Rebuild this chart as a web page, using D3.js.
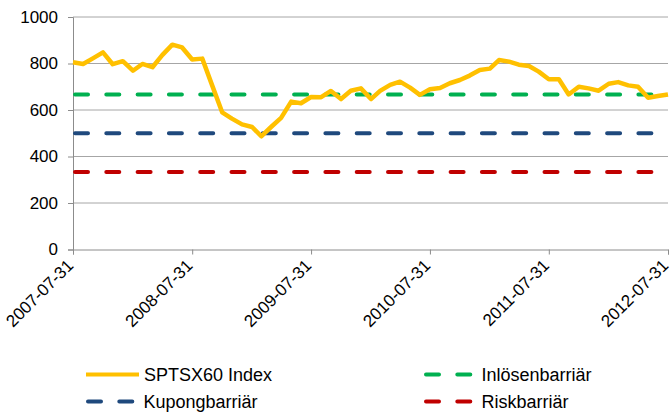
<!DOCTYPE html>
<html>
<head>
<meta charset="utf-8">
<script src="https://cdn.jsdelivr.net/npm/d3@7"></script>
<style>
  body { margin: 0; background: #fff; }
  text { font-family: "Liberation Sans", Arial, sans-serif; fill: #000; }
</style>
</head>
<body>
<div id="chart-area"></div>
<script>
// monthly index closes, first value is 2007-07-31
const startMonth = new Date(2007, 7, 1);
const indexValues = [805, 798, 822, 848, 797, 810, 769, 798, 784, 836, 881, 869, 817, 821, 707,
    590, 563, 538, 527, 487, 528, 566, 636, 629, 656, 655, 682, 647, 683, 693,
    647, 682, 708, 722, 696, 665, 689, 695, 715, 729, 748, 772, 778, 815, 808,
    795, 789, 765, 732, 732, 667, 700, 693, 683, 713, 720, 706, 700, 653, 660, 667];

const barrierNames = ["Inlösenbarriär", "Kupongbarriär", "Riskbarriär"];
const barrierLevels = [667, 500, 333];
const barrierColors = ["#00B050", "#1F497D", "#C00000"];

const yTicks = [0, 200, 400, 600, 800, 1000];
const xTickLabels = ["2007-07-31", "2008-07-31", "2009-07-31", "2010-07-31", "2011-07-31", "2012-07-31"];

const indexName = "SPTSX60 Index", indexColor = "#FFC000";

// canvas
const canvas = { width: 672, height: 412 };
const plot = { left: 73, right: 668, top: 17, bottom: 249.5 };

const svg = d3.select("#chart-area").append("svg").attr("width", canvas.width).attr("height", canvas.height);

// dates: last day of every month
const dates = indexValues.map((v, i) => d3.timeDay.offset(d3.timeMonth.offset(startMonth, i), -1));
const data = indexValues.map((v, i) => ({ date: dates[i], value: v }));
const parse = d3.timeParse("%Y-%m-%d");

const x = d3.scaleTime().domain([dates[0], dates[dates.length - 1]]).range([plot.left, plot.right]);
const y = d3.scaleLinear().domain([0, 1000]).range([plot.bottom, plot.top]);

// grid
svg.append("g").selectAll("line").data(yTicks.slice(1)).enter().append("line")
    .attr("x1", plot.left).attr("x2", plot.right)
    .attr("y1", d => y(d)).attr("y2", d => y(d))
    .attr("stroke", "#A6A6A6").attr("stroke-width", 1);

// y axis
const yAxisCall = d3.axisLeft(y).tickValues(yTicks).tickSize(5).tickPadding(10).tickFormat(d3.format("d"));
const yAxis = svg.append("g").attr("transform", "translate(" + plot.left + ",0)").call(yAxisCall);
yAxis.select(".domain").attr("stroke", "#8C8C8C");
yAxis.selectAll(".tick line").attr("stroke", "#8C8C8C");
yAxis.selectAll("text").attr("font-size", 17).attr("font-family", null);

// x axis
const xAxisCall = d3.axisBottom(x).tickValues(xTickLabels.map(parse)).tickSize(5).tickFormat(d3.timeFormat("%Y-%m-%d"));
const xAxis = svg.append("g").attr("transform", "translate(0," + plot.bottom + ")").call(xAxisCall);
xAxis.select(".domain").attr("stroke", "#8C8C8C");
xAxis.selectAll(".tick line").attr("stroke", "#8C8C8C");
xAxis.selectAll("text").attr("font-size", 17).attr("font-family", null)
    .attr("text-anchor", "end").attr("y", 0).attr("dy", 0)
    .attr("transform", "translate(1,17) rotate(-45)");

// barriers
const dash = "13 18.3";
svg.append("g").selectAll("line").data(barrierLevels).enter().append("line")
    .attr("x1", plot.left).attr("x2", plot.right)
    .attr("y1", d => y(d)).attr("y2", d => y(d))
    .attr("stroke", (d, i) => barrierColors[i]).attr("stroke-width", 4)
    .attr("stroke-linecap", "round").attr("stroke-dasharray", dash).attr("stroke-dashoffset", -2);

// index line
const line = d3.line().x(d => x(d.date)).y(d => y(d.value));
svg.append("path").datum(data).attr("d", line)
    .attr("fill", "none").attr("stroke", indexColor).attr("stroke-width", 4.5)
    .attr("stroke-linejoin", "round");

// legend
const legendItems = [
    { name: indexName, color: indexColor, dashed: false, x: 86, y: 374.5 },
    { name: barrierNames[0], color: barrierColors[0], dashed: true, x: 424, y: 374.5 },
    { name: barrierNames[1], color: barrierColors[1], dashed: true, x: 86, y: 401.5 },
    { name: barrierNames[2], color: barrierColors[2], dashed: true, x: 424, y: 401.5 }
];
const legend = svg.append("g").selectAll("g").data(legendItems).enter().append("g")
    .attr("transform", d => "translate(" + d.x + "," + d.y + ")");
legend.append("line").attr("x1", 0).attr("x2", d => d.dashed ? 50 : 53)
    .attr("stroke", d => d.color).attr("stroke-width", 4)
    .attr("stroke-linecap", d => d.dashed ? "round" : "butt")
    .attr("stroke-dasharray", d => d.dashed ? dash : null).attr("stroke-dashoffset", -2);
legend.append("text").attr("x", d => d.dashed ? 57.5 : 58).attr("dy", "0.35em")
    .attr("font-size", 18).text(d => d.name);
</script>
</body>
</html>
